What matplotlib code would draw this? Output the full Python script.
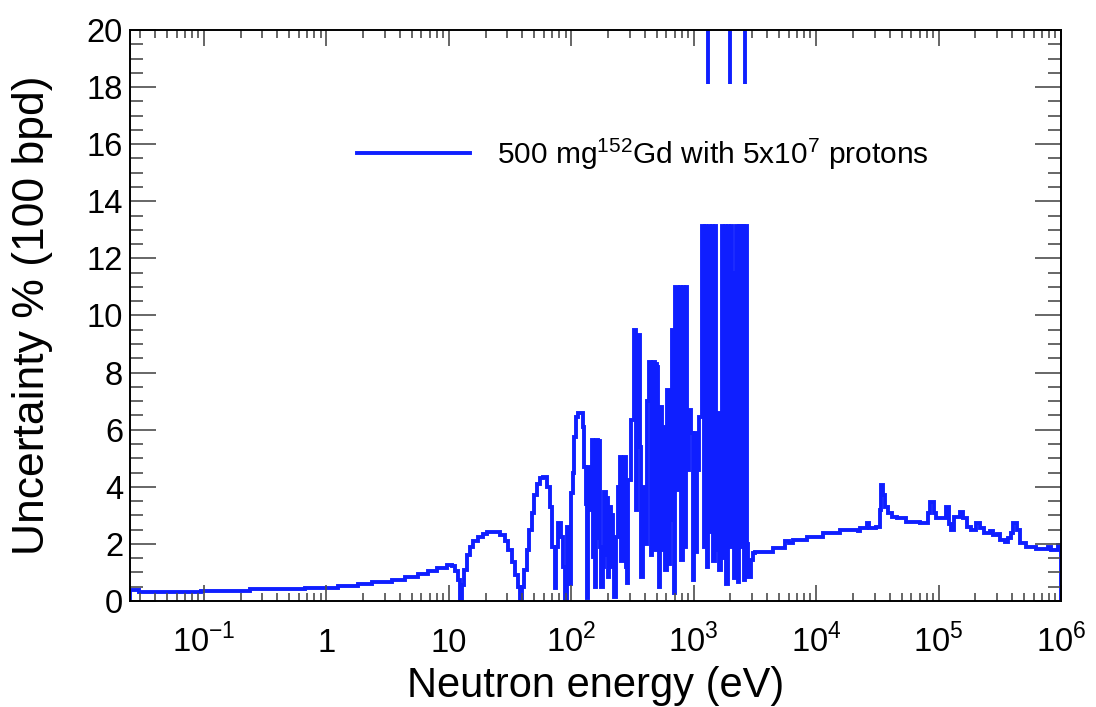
import numpy as np
import matplotlib
matplotlib.use("Agg")
import matplotlib.pyplot as plt
from matplotlib.lines import Line2D
from matplotlib.ticker import FixedLocator, LogLocator, MultipleLocator, NullFormatter

plt.rcParams["font.family"] = ["Liberation Sans", "DejaVu Sans"]
plt.rcParams["mathtext.fontset"] = "custom"
plt.rcParams["mathtext.rm"] = "Liberation Sans"

BLUE = "#0f1fff"
LW = 2.8

# histogram bins: lower edges in log10(E / eV) and the uncertainty in %
low_log_e = [-1.602, -1.525, -1.026, -0.626, -0.176, 0.093, 0.257, 0.371, 0.534, 0.641,
             0.747, 0.828, 0.902, 0.984, 1.025, 1.049, 1.074, 1.090, 1.106, 1.123,
             1.147, 1.172, 1.196, 1.237, 1.278, 1.310, 1.359, 1.417, 1.458, 1.482,
             1.515, 1.539, 1.564, 1.580]
low_unc = [0.38, 0.30, 0.35, 0.41, 0.47, 0.52, 0.59, 0.67, 0.75, 0.84,
           0.93, 1.04, 1.15, 1.25, 1.22, 1.05, 0.75, 0.05, 0.55, 1.1,
           1.6, 1.88, 2.1, 2.25, 2.35, 2.42, 2.43, 2.32, 2.1, 1.8,
           1.35, 0.9, 0.5, 0.05]

res_log_e = [1.596, 1.613, 1.637, 1.654, 1.678, 1.694, 1.719, 1.743, 1.768, 1.801,
             1.825, 1.842, 1.866, 1.878, 1.891, 1.915, 1.931, 1.948, 1.964, 1.980,
             1.997, 2.013, 2.025, 2.038, 2.054, 2.095, 2.107, 2.119, 2.127, 2.140,
             2.156, 2.168, 2.181, 2.193, 2.205, 2.217, 2.225, 2.234, 2.246, 2.258,
             2.270, 2.285, 2.292, 2.299, 2.311, 2.322, 2.330, 2.340, 2.352, 2.364,
             2.381, 2.397, 2.409, 2.422, 2.434, 2.444, 2.454, 2.467, 2.487, 2.516,
             2.528, 2.540, 2.560, 2.573, 2.585, 2.610, 2.622, 2.638, 2.650, 2.659,
             2.671, 2.683, 2.690, 2.699, 2.708, 2.716, 2.728, 2.740, 2.752, 2.769,
             2.781, 2.795, 2.806, 2.822, 2.838, 2.850, 2.875, 2.887, 2.900, 2.912,
             2.924, 2.936, 2.949, 2.961, 2.977, 2.994, 3.006, 3.018, 3.030, 3.043]
res_unc = [0.5, 1.1, 1.8, 2.5, 3.1, 3.7, 4.1, 4.3, 4.33, 4.0,
           3.3, 1.9, 0.45, 1.9, 2.73, 2.24, 1.2, 0.05, 2.6, 0.6,
           3.8, 4.5, 5.75, 6.45, 6.6, 6.1, 4.7, 3.4, 0.1, 4.7,
           3.2, 5.64, 1.55, 0.5, 5.64, 2.2, 5.6, 1.9, 0.5, 1.2,
           3.83, 1.6, 3.6, 0.85, 3.3, 1.2, 3.0, 2.0, 0.15, 2.25,
           4.0, 5.05, 1.4, 2.0, 5.05, 1.2, 0.63, 4.24, 6.34, 9.5,
           3.2, 9.3, 5.4, 0.85, 4.0, 2.0, 7.0, 8.38, 1.6, 3.0,
           8.38, 1.8, 8.3, 8.2, 2.95, 0.5, 6.8, 1.8, 6.1, 1.1,
           7.4, 1.3, 2.84, 9.5, 0.28, 11.0, 3.9, 11.0, 1.44, 11.0,
           1.9, 11.0, 4.6, 6.7, 5.9, 0.73, 5.9, 1.7, 4.6, 6.45]

top_log_e = [3.071, 3.083, 3.092, 3.100, 3.108, 3.116, 3.124, 3.136, 3.149, 3.161,
             3.173, 3.185, 3.198, 3.210, 3.222, 3.230, 3.243, 3.255, 3.267, 3.279,
             3.292, 3.304, 3.316, 3.328, 3.337, 3.349, 3.361, 3.373, 3.386, 3.398,
             3.410, 3.422]
top_unc = [13.15, 1.9, 13.15, 4.5, 1.2, 3.8, 13.15, 2.4, 13.15, 1.4,
           13.15, 1.8, 6.6, 1.1, 4.3, 13.15, 1.5, 13.15, 0.6, 13.15,
           1.9, 13.15, 11.5, 0.8, 11.5, 13.15, 0.65, 13.15, 1.9, 13.15,
           0.75, 13.15]

fast_log_e = [3.435, 3.447, 3.467, 3.484, 3.500, 3.647, 3.745, 3.778, 3.810, 3.925,
              4.056, 4.194, 4.342, 4.358, 4.415, 4.431, 4.489, 4.521, 4.534, 4.546,
              4.562, 4.587, 4.619, 4.660, 4.734, 4.848, 4.913, 4.930, 4.962, 4.979,
              5.060, 5.085, 5.101, 5.126, 5.175, 5.199, 5.232, 5.265, 5.306, 5.338,
              5.371, 5.420, 5.444, 5.477, 5.502, 5.543, 5.567, 5.592, 5.608, 5.641,
              5.665, 5.710, 5.796, 5.894, 5.918, 5.976]
fast_unc = [2.0, 0.85, 1.44, 1.68, 1.73, 1.85, 2.1, 2.02, 2.14, 2.25,
            2.38, 2.49, 2.45, 2.55, 2.72, 2.55, 2.6, 3.19, 4.06, 3.7,
            3.3, 3.07, 2.95, 2.9, 2.78, 2.72, 3.07, 3.48, 3.07, 2.9,
            3.3, 2.7, 2.49, 2.95, 3.13, 2.9, 2.6, 2.49, 2.72, 2.55,
            2.38, 2.45, 2.3, 2.35, 2.14, 2.08, 2.2, 2.38, 2.72, 2.5,
            2.03, 1.9, 1.82, 1.9, 1.79, 1.96]
last_edge_log_e = 6.0

# bins running off the top of the frame
spike_log_e = [3.116, 3.300, 3.422]
spike_lo = [18.1, 18.1, 18.1]

x_ticks = [0.1, 1, 10, 1e2, 1e3, 1e4, 1e5, 1e6]
x_tick_labels = [r"10$^{\mathregular{-1}}$", "1", "10", r"10$^{\mathregular{2}}$",
                 r"10$^{\mathregular{3}}$", r"10$^{\mathregular{4}}$",
                 r"10$^{\mathregular{5}}$", r"10$^{\mathregular{6}}$"]

edges = 10.0 ** np.array(low_log_e + res_log_e + top_log_e + fast_log_e + [last_edge_log_e])
unc = np.array(low_unc + res_unc + top_unc + fast_unc)

fig = plt.figure(figsize=(10.96, 7.07), dpi=100)
ax = fig.add_axes([0.1186, 0.1499, 0.8495, 0.8077])

ax.stairs(unc, edges, baseline=0, color=BLUE, lw=LW)
ax.vlines(10.0 ** np.array(spike_log_e), spike_lo, 20, color=BLUE, lw=LW)

ax.set_xscale("log")
ax.set_xlim(0.025, 1e6)
ax.set_ylim(0, 20)

ax.xaxis.set_major_locator(FixedLocator(x_ticks))
ax.set_xticklabels(x_tick_labels)
ax.xaxis.set_minor_locator(LogLocator(base=10, subs=np.arange(2, 10), numticks=30))
ax.xaxis.set_minor_formatter(NullFormatter())
ax.yaxis.set_major_locator(MultipleLocator(2))
ax.yaxis.set_minor_locator(MultipleLocator(0.5))

ax.tick_params(which="both", direction="in", top=True, right=True, color="0.3", width=1.2)
ax.tick_params(axis="y", which="major", length=19, labelsize=23.5, pad=5)
ax.tick_params(axis="y", which="minor", length=9.5)
ax.tick_params(axis="x", which="major", length=11.5, labelsize=23.5, pad=37)
ax.tick_params(axis="x", which="minor", length=5.5)
for lbl in ax.get_xticklabels():
    lbl.set_verticalalignment("baseline")

for sp in ax.spines.values():
    sp.set_linewidth(1.4)
    sp.set_color("black")

ax.set_xlabel("Neutron energy (eV)", fontsize=30)
ax.xaxis.set_label_coords(0.5, -0.113)
ax.set_ylabel("Uncertainty % (100 bpd)", fontsize=32)
ax.yaxis.set_label_coords(-0.083, 0.5)

handle = Line2D([], [], color=BLUE, lw=LW)
ax.legend([handle], [r"500 mg$^{\mathregular{152}}$Gd with 5x10$^{\mathregular{7}}$ protons"],
          loc="center left", bbox_to_anchor=(0.2438, 0.783), frameon=False, fontsize=21.5,
          handlelength=3.78, handletextpad=0.9, borderpad=0, borderaxespad=0)

fig.savefig("out.png", dpi=100)
